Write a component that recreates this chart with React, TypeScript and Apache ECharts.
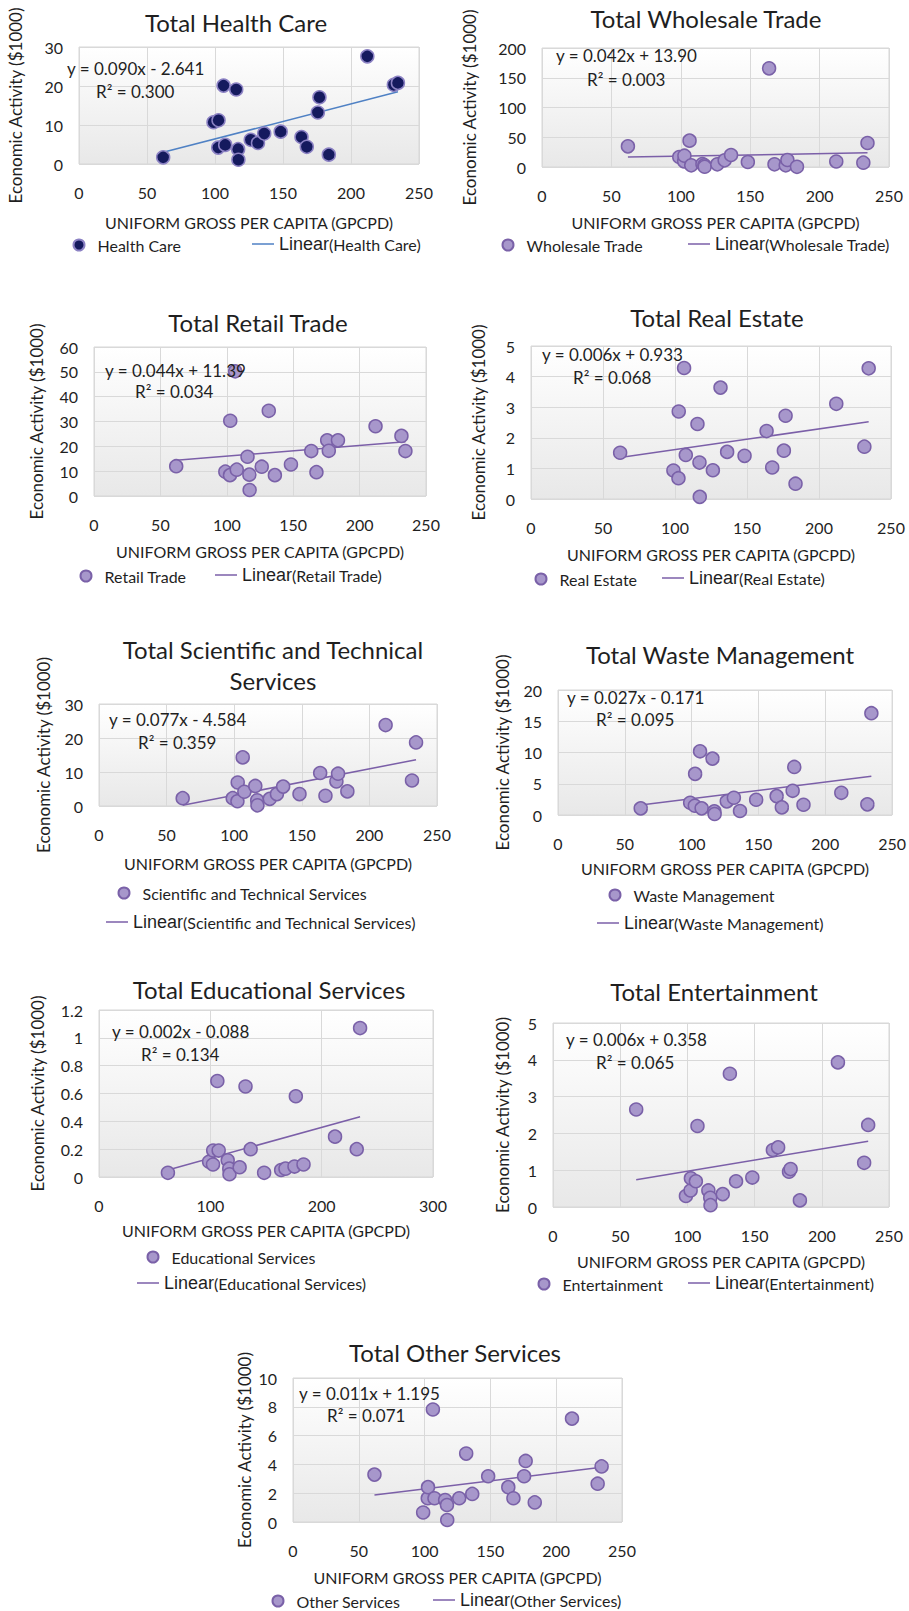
import React, { useEffect, useRef } from "react";
import * as echarts from "echarts";

// ---------- DATA ----------
const gpcpd = [61.9, 98.9, 102.4, 102.6, 106.3, 107.5, 115.6, 117.0, 117.2, 126.3, 131.6, 136.2, 148.3, 163.6, 167.5, 175.6, 176.8, 183.7, 212.0, 231.5, 234.5];

const healthCare = [1.7, 10.7, 4.2, 11.2, 20.1, 4.9, 19.1, 3.8, 1.1, 6.2, 5.4, 7.8, 8.3, 6.9, 4.4, 13.2, 17.1, 2.4, 27.6, 20.3, 20.8];
const wholesaleTrade = [34.7, 16.8, 9.5, 19.0, 44.3, 2.8, 5.0, 3.0, 0.5, 4.5, 11.2, 20.2, 8.4, 165.8, 4.5, 2.8, 11.8, 0.3, 9.2, 7.3, 40.3];
const retailTrade = [12.0, 9.8, 8.4, 30.3, 50.2, 10.6, 15.8, 8.6, 2.4, 11.8, 34.3, 8.4, 12.7, 18.1, 9.6, 22.4, 18.2, 22.4, 28.1, 24.2, 18.1];
const realEstate = [1.51, 0.93, 0.68, 2.86, 4.28, 1.44, 2.45, 1.19, 0.07, 0.94, 3.64, 1.54, 1.41, 2.22, 1.03, 1.58, 2.72, 0.5, 3.11, 1.71, 4.27];
const scientificTechnical = [2.3, 2.3, 1.4, 6.9, 14.3, 4.2, 5.9, 1.7, 0.2, 2.1, 3.5, 5.7, 3.5, 9.7, 3.0, 7.2, 9.5, 4.3, 23.8, 7.5, 18.7];
const wasteManagement = [1.06, 1.96, 1.49, 6.58, 10.19, 1.06, 9.02, 0.58, 0.16, 2.18, 2.76, 0.64, 2.44, 3.02, 1.22, 3.87, 7.69, 1.64, 3.55, 1.7, 16.29];
const educationalServices = [0.03, 0.11, 0.09, 0.19, 0.69, 0.19, 0.12, 0.06, 0.02, 0.07, 0.65, 0.2, 0.03, 0.05, 0.06, 0.075, 0.58, 0.09, 0.29, 0.2, 1.07];
const entertainment = [2.65, 0.3, 0.45, 0.78, 0.7, 2.2, 0.45, 0.25, 0.05, 0.35, 3.62, 0.7, 0.8, 1.55, 1.62, 0.96, 1.03, 0.18, 3.93, 1.2, 2.23];
const otherServices = [3.29, 0.66, 1.65, 2.42, 7.81, 1.65, 1.53, 1.18, 0.14, 1.65, 4.75, 1.95, 3.18, 2.42, 1.65, 3.18, 4.24, 1.36, 7.18, 2.66, 3.86];

const seriesNames = ["Health Care", "Wholesale Trade", "Retail Trade", "Real Estate", "Scientific and Technical Services", "Waste Management", "Educational Services", "Entertainment", "Other Services"];
const chartTitles = ["Total Health Care", "Total Wholesale Trade", "Total Retail Trade", "Total Real Estate", "Total Scientific and Technical\nServices", "Total Waste Management", "Total Educational Services", "Total Entertainment", "Total Other Services"];
const equationLabels = ["y = 0.090x - 2.641", "y = 0.042x + 13.90", "y = 0.044x + 11.39", "y = 0.006x + 0.933", "y = 0.077x - 4.584", "y = 0.027x - 0.171", "y = 0.002x - 0.088", "y = 0.006x + 0.358", "y = 0.011x + 1.195"];
const rSquaredLabels = ["R² = 0.300", "R² = 0.003", "R² = 0.034", "R² = 0.068", "R² = 0.359", "R² = 0.095", "R² = 0.134", "R² = 0.065", "R² = 0.071"];
const yMaxes = [30, 200, 60, 5, 30, 20, 1.2, 5, 10];
const yIntervals = [10, 50, 10, 1, 10, 5, 0.2, 1, 2];
const xMaxes = [250, 250, 250, 250, 250, 250, 300, 250, 250];
const xIntervals = [50, 50, 50, 50, 50, 50, 100, 50, 50];
const xAxisTitle = "UNIFORM GROSS PER CAPITA (GPCPD)";
const yAxisTitle = "Economic Activity ($1000)";

const valueSets = [healthCare, wholesaleTrade, retailTrade, realEstate, scientificTechnical, wasteManagement, educationalServices, entertainment, otherServices];

// ---------- LAYOUT ----------
const layouts = [
  { grid: [79, 47, 340, 117], title: [236, 7], yGap: 55, xGap: 50, eq: [67, 68], r2: [96, 91], lg1: [78, 246], lg2: [252, 246] },
  { grid: [542, 48, 347, 119], title: [706, 3], yGap: 64, xGap: 47, eq: [556, 55], r2: [587, 79], lg1: [507, 246], lg2: [688, 246] },
  { grid: [94, 347, 332, 149], title: [258, 307], yGap: 49, xGap: 47, eq: [105, 370], r2: [135, 391], lg1: [85, 577], lg2: [215, 577] },
  { grid: [531, 346, 360, 153], title: [717, 302], yGap: 44, xGap: 47, eq: [542, 354], r2: [573, 377], lg1: [540, 580], lg2: [662, 580] },
  { grid: [99, 704, 338, 102], title: [273, 634], yGap: 47, xGap: 49, eq: [109, 719], r2: [138, 742], lg1: [123, 894], lg2: [106, 924] },
  { grid: [558, 690, 335, 125], title: [720, 639], yGap: 47, xGap: 45, eq: [567, 697], r2: [596, 719], lg1: [614, 896], lg2: [597, 925] },
  { grid: [99, 1010, 334, 167], title: [269, 974], yGap: 53, xGap: 45, eq: [112, 1031], r2: [141, 1054], lg1: [152, 1258], lg2: [137, 1285] },
  { grid: [553, 1023, 336, 184], title: [714, 976], yGap: 42, xGap: 46, eq: [566, 1039], r2: [596, 1062], lg1: [543, 1285], lg2: [688, 1285] },
  { grid: [293, 1378, 329, 144], title: [455, 1337], yGap: 40, xGap: 47, eq: [299, 1393], r2: [327, 1415], lg1: [277, 1602], lg2: [433, 1602] },
];

const FONT = "Lato, 'Noto Sans', sans-serif";
const TEXT = "#1f1f1f";

function leastSquares(xs: number[], ys: number[]) {
  const n = xs.length;
  let sx = 0, sy = 0, sxx = 0, sxy = 0;
  for (let i = 0; i < n; i++) {
    sx += xs[i]; sy += ys[i]; sxx += xs[i] * xs[i]; sxy += xs[i] * ys[i];
  }
  const slope = (n * sxy - sx * sy) / (n * sxx - sx * sx);
  const intercept = (sy - slope * sx) / n;
  return { slope, intercept };
}

function buildOption() {
  const grid: any[] = [];
  const xAxis: any[] = [];
  const yAxis: any[] = [];
  const series: any[] = [];
  const title: any[] = [];
  const legend: any[] = [];
  const graphic: any[] = [];
  const xMin = Math.min(...gpcpd);
  const xMaxData = Math.max(...gpcpd);

  seriesNames.forEach((name, i) => {
    const L = layouts[i];
    const isHealth = i === 0;
    const markerFill = isHealth ? "#151a5e" : "#a797cb";
    const markerBorder = isHealth ? "#8c82c4" : "#7a61a8";
    const trendColor = isHealth ? "#4f81c4" : "#7b5fa8";

    grid.push({
      left: L.grid[0], top: L.grid[1], width: L.grid[2], height: L.grid[3],
      show: true, borderColor: "#d6d6d6", borderWidth: 1,
      backgroundColor: new echarts.graphic.LinearGradient(0, 0, 0, 1, [
        { offset: 0, color: "#ffffff" },
        { offset: 1, color: "#e8e8e8" },
      ]),
    });
    xAxis.push({
      type: "value", gridIndex: i, min: 0, max: xMaxes[i], interval: xIntervals[i],
      name: xAxisTitle, nameLocation: "middle", nameGap: L.xGap,
      nameTextStyle: { fontSize: 16, fontFamily: FONT, color: TEXT },
      axisLine: { show: false }, axisTick: { show: false },
      axisLabel: { fontSize: 16, fontFamily: FONT, color: TEXT, margin: 20 },
      splitLine: { show: true, lineStyle: { color: "#d9d9d9", width: 1 } },
    });
    yAxis.push({
      type: "value", gridIndex: i, min: 0, max: yMaxes[i], interval: yIntervals[i],
      name: yAxisTitle, nameLocation: "middle", nameGap: L.yGap,
      nameTextStyle: { fontSize: 17, fontFamily: FONT, color: TEXT },
      axisLine: { show: false }, axisTick: { show: false },
      axisLabel: { fontSize: 16, fontFamily: FONT, color: TEXT, margin: 16 },
      splitLine: { show: true, lineStyle: { color: "#d9d9d9", width: 1 } },
    });

    const ys = valueSets[i];
    const fit = leastSquares(gpcpd, ys);
    series.push({
      type: "scatter", name, xAxisIndex: i, yAxisIndex: i,
      data: gpcpd.map((x, j) => [x, ys[j]]),
      symbolSize: 13,
      itemStyle: { color: markerFill, borderColor: markerBorder, borderWidth: 1.5, opacity: 1 },
      z: 3,
    });
    series.push({
      type: "line", name: "Linear(" + name + ")", xAxisIndex: i, yAxisIndex: i,
      data: [[xMin, fit.slope * xMin + fit.intercept], [xMaxData, fit.slope * xMaxData + fit.intercept]],
      symbol: "none", showSymbol: false, silent: true,
      lineStyle: { color: trendColor, width: 1.5 }, itemStyle: { color: trendColor },
      z: 2,
    });

    title.push({
      text: chartTitles[i], left: L.title[0], top: L.title[1], textAlign: "center", padding: 0,
      textStyle: { fontSize: 24, fontWeight: "normal", fontFamily: FONT, color: TEXT, lineHeight: 31 },
    });

    legend.push({
      left: L.lg1[0] - 5.5, top: L.lg1[1] - 9, padding: 0, selectedMode: false,
      data: [{ name, icon: "circle" }], itemWidth: 11, itemHeight: 11,
      textStyle: { fontSize: 16, fontFamily: FONT, color: TEXT, padding: [0, 0, 0, 8] },
    });
    legend.push({
      left: L.lg2[0], top: L.lg2[1] - 11, padding: 0, selectedMode: false,
      data: [{ name: "Linear(" + name + ")", icon: "rect" }], itemWidth: 22, itemHeight: 1.5,
      itemStyle: { color: trendColor, borderWidth: 0 },
      formatter: (n: string) => "{a|Linear}{b|" + n.slice(6) + "}",
      textStyle: {
        color: TEXT,
        rich: {
          a: { fontSize: 18, fontFamily: "'Liberation Sans', Arial, sans-serif", color: TEXT },
          b: { fontSize: 16, fontFamily: FONT, color: TEXT },
        },
      },
    });

    graphic.push({
      type: "text", x: L.eq[0], y: L.eq[1], z: 10,
      style: { text: equationLabels[i], fontSize: 17, fontFamily: FONT, fill: TEXT, verticalAlign: "middle" },
    });
    graphic.push({
      type: "text", x: L.r2[0], y: L.r2[1], z: 10,
      style: { text: rSquaredLabels[i], fontSize: 17, fontFamily: FONT, fill: TEXT, verticalAlign: "middle" },
    });
  });

  return { animation: false, backgroundColor: "#ffffff", title, legend, grid, xAxis, yAxis, series, graphic };
}

export default function App() {
  const ref = useRef<HTMLDivElement>(null);
  useEffect(() => {
    if (!ref.current) return;
    const chart = echarts.init(ref.current, undefined, { renderer: "svg" });
    chart.setOption(buildOption() as any);
    return () => chart.dispose();
  }, []);
  return <div ref={ref} style={{ position: "absolute", left: 0, top: 0, width: 909, height: 1611 }} />;
}
